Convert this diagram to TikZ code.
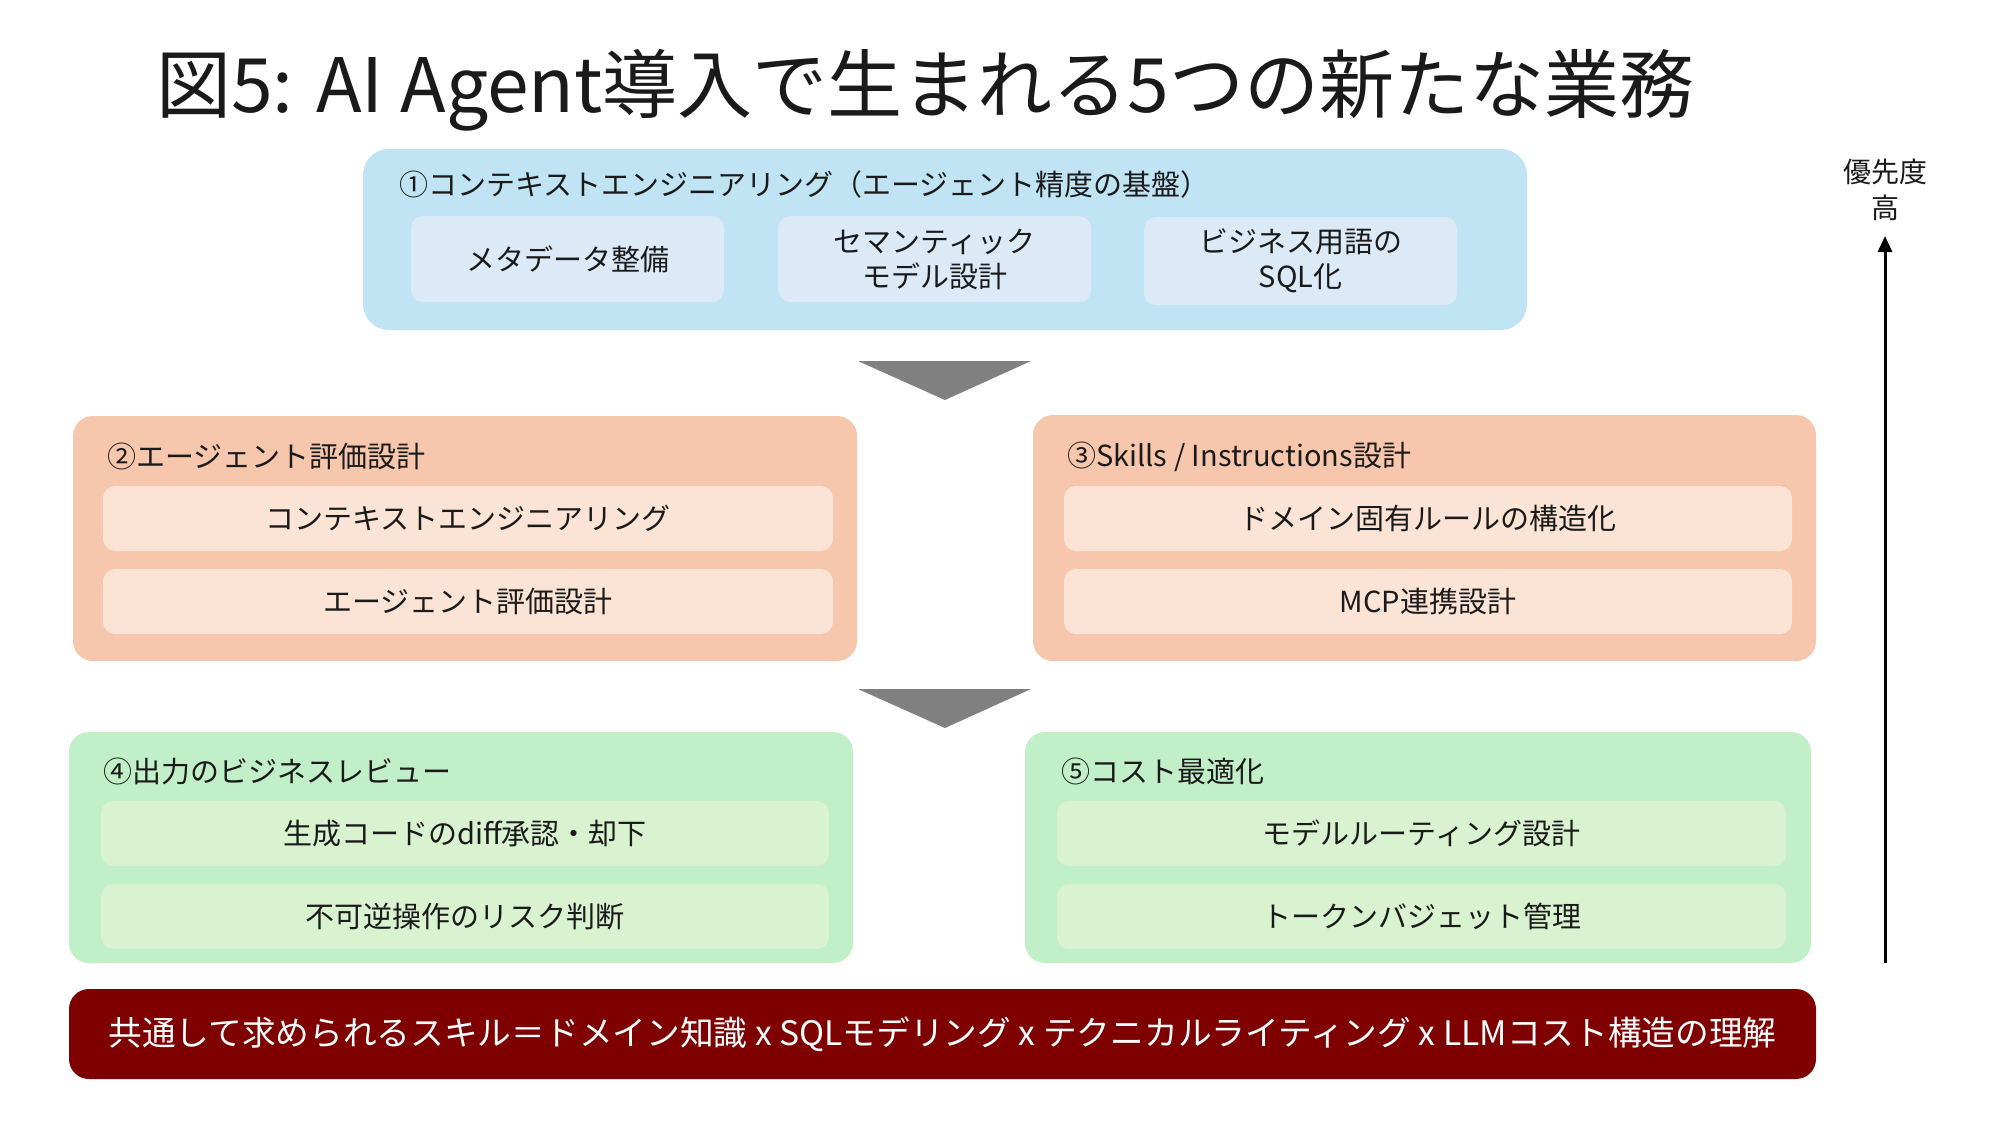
\documentclass[tikz,border=0pt]{standalone}
\usepackage{fontspec}
\setmainfont{Noto Sans CJK JP}
\usetikzlibrary{arrows.meta}
\definecolor{bluebg}{HTML}{C1E4F5}
\definecolor{bluein}{HTML}{DCEAF7}
\definecolor{orgbg}{HTML}{F6C6AD}
\definecolor{orgin}{HTML}{FBE3D6}
\definecolor{grnbg}{HTML}{C1F0C8}
\definecolor{grnin}{HTML}{D9F2D0}
\definecolor{barred}{HTML}{7F0000}
\definecolor{trigray}{HTML}{808080}
\definecolor{txt}{HTML}{1A1A1A}
\tikzset{
  panel/.style={rounded corners=26pt, inner sep=0pt, draw=none},
  itembox/.style={rounded corners=12pt, inner sep=0pt, draw=none, align=center,
    text=txt, font=\fontsize{29pt}{35pt}\selectfont},
  paneltitle/.style={anchor=west, inner sep=0pt, text=txt, font=\fontsize{29pt}{35pt}\selectfont},
}
\begin{document}
\begin{tikzpicture}[x=1pt,y=-1pt]
\useasboundingbox[fill=white] (0,0) rectangle (2000,1125);

% title
\node[anchor=west, inner sep=0pt, text=txt, font=\fontsize{75pt}{80pt}\selectfont] (title) at (156,90) {図5: AI Agent導入で生まれる5つの新たな業務};

% panel 1
\node[panel, fill=bluebg, minimum width=1164pt, minimum height=181pt] (p1) at (945,239.5) {};
\node[paneltitle] (t1) at (399,184) {①コンテキストエンジニアリング（エージェント精度の基盤）};
\node[itembox, fill=bluein, minimum width=313pt, minimum height=86pt] (a1) at (567.5,259) {メタデータ整備};
\node[itembox, fill=bluein, minimum width=313pt, minimum height=86pt] (a2) at (934.5,259) {セマンティック\\モデル設計};
\node[itembox, fill=bluein, minimum width=313pt, minimum height=88pt] (a3) at (1300.5,261) {ビジネス用語の\\SQL化};

% triangle 1
\fill[trigray] (858,361) -- (1031,361) -- (945,400) -- cycle;

% panel 2
\node[panel, fill=orgbg, rounded corners=20pt, minimum width=784pt, minimum height=245pt] (p2) at (465,538.5) {};
\node[paneltitle] (t2) at (107,456) {②エージェント評価設計};
\node[itembox, fill=orgin, minimum width=730pt, minimum height=65pt] (b1) at (468,518.5) {コンテキストエンジニアリング};
\node[itembox, fill=orgin, minimum width=730pt, minimum height=65pt] (b2) at (468,601.5) {エージェント評価設計};

% panel 3
\node[panel, fill=orgbg, rounded corners=20pt, minimum width=783pt, minimum height=246pt] (p3) at (1424.5,538) {};
\node[paneltitle] (t3) at (1067,457) {③Skills / Instructions設計};
\node[itembox, fill=orgin, minimum width=728pt, minimum height=65pt] (c1) at (1428,518.5) {ドメイン固有ルールの構造化};
\node[itembox, fill=orgin, minimum width=728pt, minimum height=65pt] (c2) at (1428,601.5) {MCP連携設計};

% triangle 2
\fill[trigray] (858,689) -- (1031,689) -- (945,728) -- cycle;

% panel 4
\node[panel, fill=grnbg, rounded corners=20pt, minimum width=784pt, minimum height=231pt] (p4) at (461,847.5) {};
\node[paneltitle] (t4) at (103,771) {④出力のビジネスレビュー};
\node[itembox, fill=grnin, minimum width=728pt, minimum height=65pt] (d1) at (465,833.5) {生成コードのdiff承認・却下};
\node[itembox, fill=grnin, minimum width=728pt, minimum height=65pt] (d2) at (465,916.5) {不可逆操作のリスク判断};

% panel 5
\node[panel, fill=grnbg, rounded corners=20pt, minimum width=786pt, minimum height=231pt] (p5) at (1418,847.5) {};
\node[paneltitle] (t5) at (1061,771) {⑤コスト最適化};
\node[itembox, fill=grnin, minimum width=729pt, minimum height=65pt] (e1) at (1421.5,833.5) {モデルルーティング設計};
\node[itembox, fill=grnin, minimum width=729pt, minimum height=65pt] (e2) at (1421.5,916.5) {トークンバジェット管理};

% bottom bar
\node[panel, fill=barred, rounded corners=20pt, minimum width=1747pt, minimum height=90pt, text=white, font=\fontsize{33.7pt}{38pt}\selectfont] (bar) at (942.5,1034) {共通して求められるスキル＝ドメイン知識 x SQLモデリング x テクニカルライティング x LLMコスト構造の理解};

% priority arrow
\node[inner sep=0pt, align=center, text=txt, font=\fontsize{28pt}{36pt}\selectfont] (prio) at (1885,190) {優先度\\高};
\coordinate (abot) at (1885,963);
\coordinate (atop) at (1885,236);
\draw[line width=3pt, -{Triangle[length=16pt,width=14pt]}] (abot) -- (atop);
\end{tikzpicture}
\end{document}
